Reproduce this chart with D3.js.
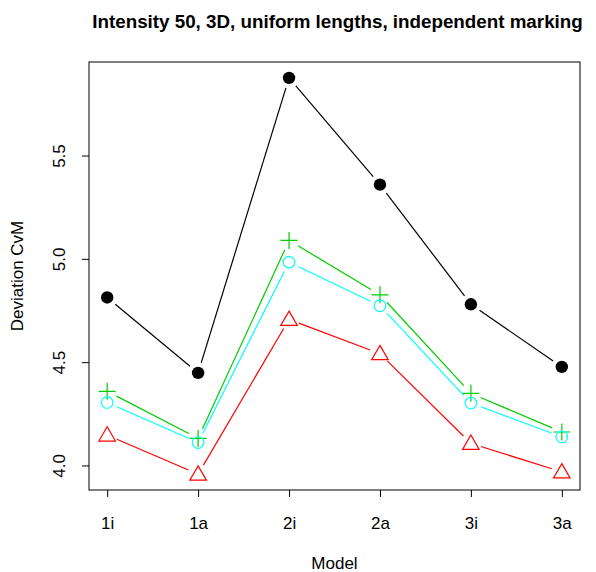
<!DOCTYPE html>
<html><head><meta charset="utf-8">
<script src="https://cdn.jsdelivr.net/npm/d3@7"></script>
<style>body{margin:0;background:#fff}svg{display:block}text{font-family:"Liberation Sans",Arial,sans-serif}</style>
</head><body>
<script>
const categories = ["1i","1a","2i","2a","3i","3a"];
const blackSeries = [4.813, 4.448, 5.876, 5.359, 4.780, 4.477];
const greenSeries = [4.359, 4.131, 5.089, 4.826, 4.349, 4.162];
const cyanSeries  = [4.305, 4.111, 4.984, 4.773, 4.302, 4.138];
const redSeries   = [4.147, 3.958, 4.707, 4.541, 4.107, 3.969];
const yTicks = [4.0, 4.5, 5.0, 5.5];

const W = 596, H = 572;
const L = 89, R = 580, T = 62, B = 490;
const FONT = "Liberation Sans, Arial, sans-serif";
const svg = d3.select("body").append("svg").attr("width", W).attr("height", H);

const allVals = blackSeries.concat(greenSeries, cyanSeries, redSeries);
const ymin = d3.min(allVals), ymax = d3.max(allVals);
const ypad = (ymax - ymin) * 0.04;
const x = d3.scaleLinear().domain([1 - 0.2, categories.length + 0.2]).range([L, R]);
const y = d3.scaleLinear().domain([ymin - ypad, ymax + ypad]).range([B, T]);

// box
svg.append("rect").attr("x", L).attr("y", T).attr("width", R - L).attr("height", B - T)
  .attr("fill", "none").attr("stroke", "#000").attr("stroke-width", 1);

// x axis
const xAxis = d3.axisBottom(x).tickValues(categories.map((c, i) => i + 1))
  .tickFormat((d) => categories[d - 1]).tickSize(7).tickPadding(20);
const gx = svg.append("g").attr("transform", `translate(0,${B})`).call(xAxis);
gx.select(".domain").remove();
gx.selectAll("text").attr("font-size", 17).attr("fill", "#000").attr("font-family", FONT);
gx.selectAll("line").attr("stroke", "#000");

// y axis
const yAxis = d3.axisLeft(y).tickValues(yTicks).tickFormat(d3.format(".1f")).tickSize(7).tickPadding(0);
const gy = svg.append("g").attr("transform", `translate(${L},0)`).call(yAxis);
gy.select(".domain").remove();
gy.selectAll("line").attr("stroke", "#000");
gy.selectAll("text").attr("font-size", 17).attr("fill", "#000").attr("font-family", FONT)
  .attr("text-anchor", "middle").attr("x", 0).attr("y", 0).attr("dy", "0.35em")
  .attr("transform", "translate(-30,0) rotate(-90)");

// title & labels
svg.append("text").attr("x", (L + R) / 2 + 3).attr("y", 28).attr("text-anchor", "middle")
  .attr("font-size", 18.8).attr("font-weight", "bold").text("Intensity 50, 3D, uniform lengths, independent marking");
svg.append("text").attr("x", (L + R) / 2).attr("y", 569).attr("text-anchor", "middle")
  .attr("font-size", 17).text("Model");
svg.append("text").attr("transform", `translate(23,${(T + B) / 2}) rotate(-90)`).attr("text-anchor", "middle")
  .attr("font-size", 17).text("Deviation CvM");

const gap = 10.5;
function drawSeries(vals, color, shape) {
  const pts = vals.map((v, i) => [x(i + 1), y(v)]);
  const g = svg.append("g");
  for (let i = 0; i < pts.length - 1; i++) {
    const [x1, y1] = pts[i], [x2, y2] = pts[i + 1];
    const dx = x2 - x1, dy = y2 - y1, len = Math.hypot(dx, dy);
    if (len <= 2 * gap) continue;
    const ux = dx / len, uy = dy / len;
    g.append("line").attr("x1", x1 + ux * gap).attr("y1", y1 + uy * gap)
      .attr("x2", x2 - ux * gap).attr("y2", y2 - uy * gap)
      .attr("stroke", color).attr("stroke-width", 1.2);
  }
  pts.forEach(([px, py]) => {
    if (shape === "dot") {
      g.append("circle").attr("cx", px).attr("cy", py).attr("r", 6.2).attr("fill", color);
    } else if (shape === "circle") {
      g.append("circle").attr("cx", px).attr("cy", py).attr("r", 5.8).attr("fill", "none")
        .attr("stroke", color).attr("stroke-width", 1.2);
    } else if (shape === "plus") {
      g.append("path").attr("d", `M${px - 8.5},${py}H${px + 8.5}M${px},${py - 8.5}V${py + 8.5}`)
        .attr("stroke", color).attr("stroke-width", 1.2).attr("fill", "none");
    } else if (shape === "tri") {
      const s = 8.3;
      g.append("path").attr("d", `M${px},${py - s * 1.0}L${px + s},${py + s * 0.72}L${px - s},${py + s * 0.72}Z`)
        .attr("stroke", color).attr("stroke-width", 1.2).attr("fill", "none");
    }
  });
}
drawSeries(blackSeries, "#000000", "dot");
drawSeries(redSeries, "#FF0000", "tri");
drawSeries(greenSeries, "#00CD00", "plus");
drawSeries(cyanSeries, "#00FFFF", "circle");
</script>
</body></html>
